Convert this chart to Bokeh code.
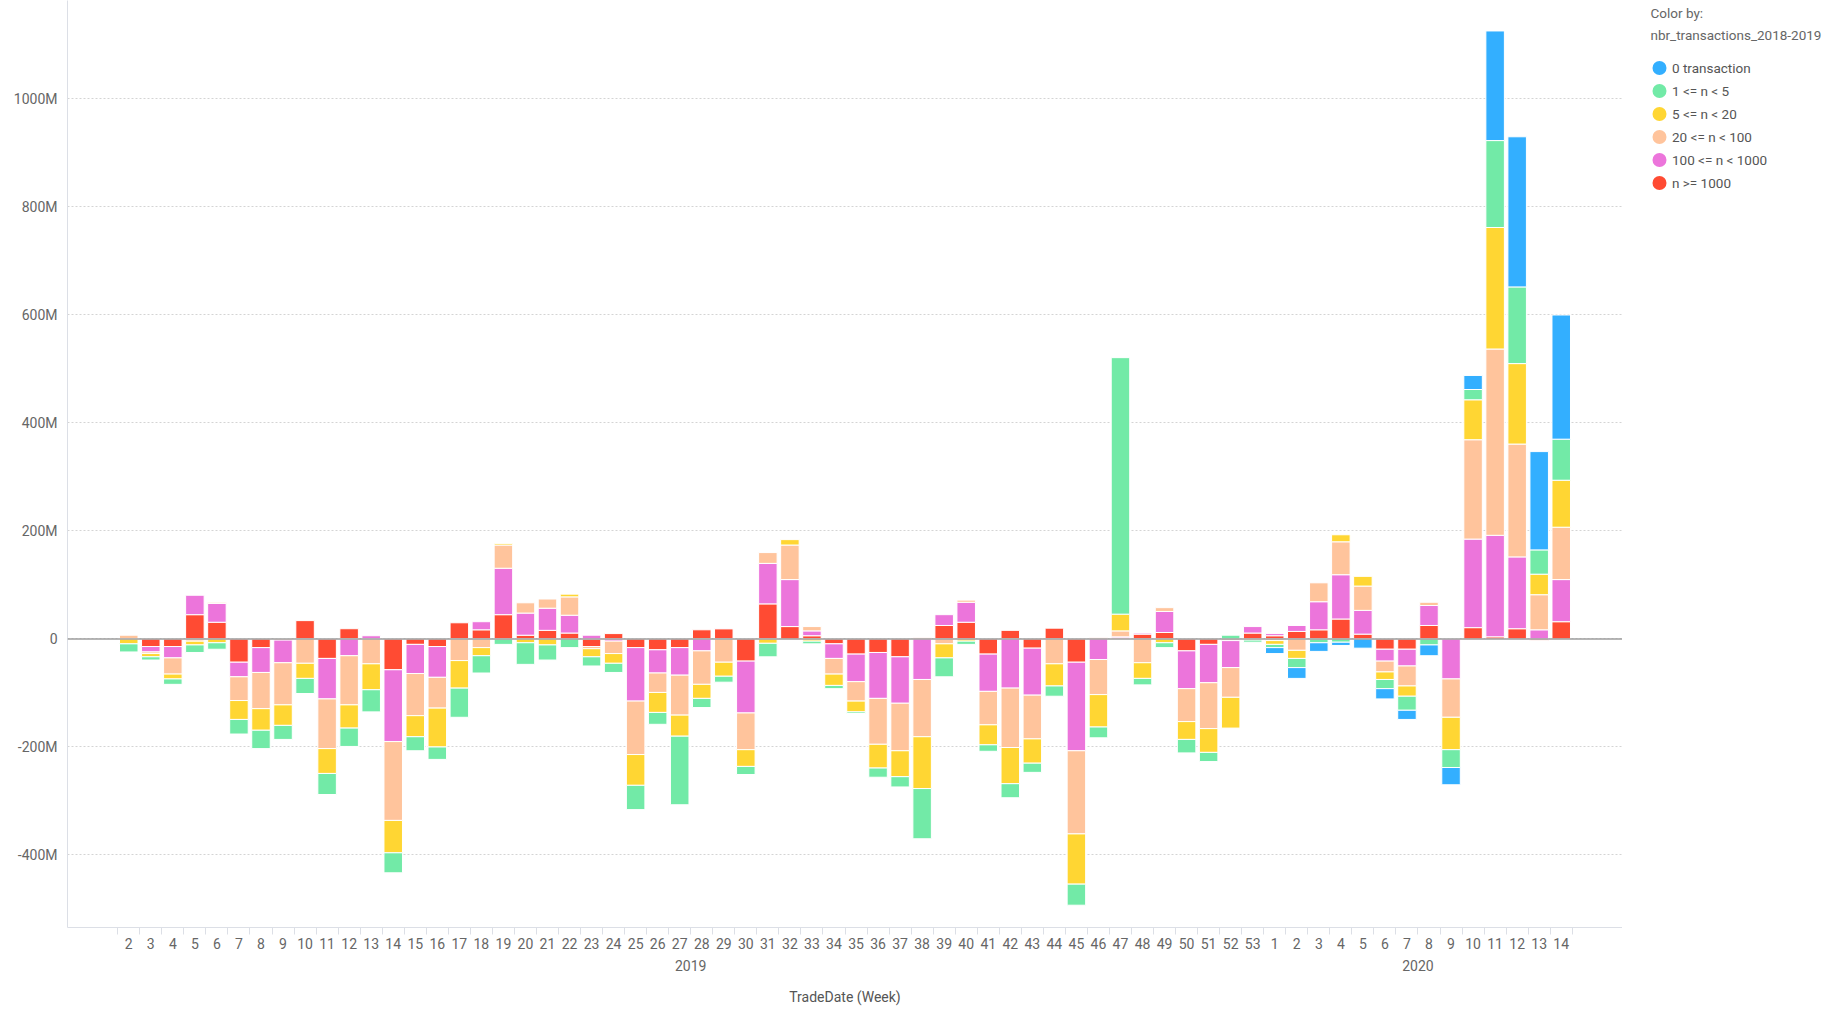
import numpy as np
from bokeh.plotting import figure
from bokeh.layouts import row
from bokeh.models import (FactorRange, Range1d, CategoricalAxis, FixedTicker,
                          CustomJSTickFormatter, Legend, LegendItem, Span, Label)
from bokeh.embed import file_html
from bokeh.resources import INLINE

# ---------------- data (values in millions) ----------------
weeks_2019 = [str(w) for w in range(2, 54)]
weeks_2020 = [str(w) for w in range(1, 15)]
factors = [("2019", w) for w in weeks_2019] + [("2020", w) for w in weeks_2020]

series_names = ["0 transaction", "1 <= n < 5", "5 <= n < 20", "20 <= n < 100",
                "100 <= n < 1000", "n >= 1000"]
series_colors = ["#33AFFF", "#72EAA7", "#FFD633", "#FFC49C", "#EC75DB", "#FF4B33"]

n_ge_1000 = [0, -14, -14, 45, 31, -43, -16, -2, 34, -36, 19, 0, -57, -10, -14, 30, 17, 45, 7, 16,
             11, -14, 10, -16, -20, -16, 17, 19, -41, 65, 23, 6, -9, -28, -25, -33, 2, 25, 31, -28,
             16, -17, 20, -43, 2, 2, 9, 12, -22, -10, -3, 11,
             6, 14, 17, 37, 9, -19, -19, 25, 0, 21, 4, 19, -3, 32]
n_100_1000 = [0, -10, -21, 36, 35, -27, -46, -42, 0, -75, -31, 6, -133, -54, -57, 0, 15, 86, 41, 41,
              33, 7, -4, -99, -43, -51, -22, 1, -96, 75, 87, 9, -27, -51, -85, -86, -75, 20, 37, -69,
              -91, -87, 0, -164, -38, 2, 2, 39, -70, -71, -50, 12,
              4, 11, 52, 82, 44, -22, -31, 37, -74, 164, 188, 133, 17, 78]
n_20_100 = [7, -3, -30, -4, 2, -44, -67, -78, -45, -92, -91, -46, -146, -78, -57, -40, -16, 43, 19, 17,
            34, -4, -23, -99, -36, -74, -62, -43, -68, 20, 64, 8, -29, -36, -85, -88, -106, -9, 4, -62,
            -110, -81, -46, -154, -65, 11, -44, 7, -61, -85, -55, 0,
            -3, -21, 35, 61, 45, -20, -37, 6, -71, 184, 345, 209, 65, 97]
n_5_20 = [-9, -6, -9, -7, -7, -35, -40, -38, -28, -46, -43, -48, -60, -39, -72, -51, -15, 3, -7, -11,
          5, -15, -18, -57, -37, -39, -26, -26, -31, -8, 10, -4, -21, -20, -44, -48, -96, -26, -4, -37,
          -67, -45, -41, -93, -60, 31, -29, -7, -33, -44, -57, -2,
          -7, -15, 0, 13, 18, -14, -19, 0, -60, 74, 225, 149, 38, 87]
n_1_5 = [-15, -6, -10, -14, -12, -27, -34, -26, -28, -39, -34, -41, -37, -26, -23, -54, -32, -10, -40, -28,
         -16, -17, -17, -45, -22, -127, -17, -11, -15, -25, 0, -5, -6, -3, -17, -19, -93, -35, -6, -12,
         -26, -17, -19, -39, -20, 475, -12, -9, -25, -17, 7, -4,
         -6, -17, -7, -6, 0, -17, -26, -11, -33, 19, 161, 142, 45, 76]
zero_tx = [0] * 52 + [-11, -20, -16, -6, -17, -19, -17, -20, -32, 26, 203, 278, 182, 230]

y_ticks = [-400, -200, 0, 200, 400, 600, 800, 1000]
legend_title_lines = ["Color by:", "nbr_transactions_2018-2019"]

# ---------------- main figure ----------------
FONT = "Roboto"
H = 1012
BOTTOM = 85
PAD = dict(group_padding=0, factor_padding=0, range_padding=2.28, range_padding_units="absolute")
p = figure(width=1622, height=H, x_range=FactorRange(*factors, **PAD),
           y_range=Range1d(-534.3, 1182.4),
           output_backend="svg", toolbar_location=None,
           min_border_left=67, min_border_right=0, min_border_top=0, min_border_bottom=BOTTOM,
           outline_line_color=None, background_fill_color="white")

# stacked bars: from zero outward red, pink, peach, yellow, green, blue
stack = [(series_colors[5], n_ge_1000), (series_colors[4], n_100_1000), (series_colors[3], n_20_100),
         (series_colors[2], n_5_20), (series_colors[1], n_1_5), (series_colors[0], zero_tx)]
pos = [0.0] * len(factors)
neg = [0.0] * len(factors)
for color, vals in stack:
    xs, tops, bottoms = [], [], []
    for i, v in enumerate(vals):
        if v == 0:
            continue
        if v > 0:
            b, t = pos[i], pos[i] + v
            pos[i] = t
        else:
            t, b = neg[i], neg[i] + v
            neg[i] = b
        xs.append(factors[i]); tops.append(t); bottoms.append(b)
    p.vbar(x=xs, top=tops, bottom=bottoms, width=0.84, fill_color=color,
           line_color="white", line_width=1)

p.add_layout(Span(location=0, dimension="width", line_color="#9e9e9e", line_width=1.5))

# y axis
yaxis = p.yaxis[0]
yaxis.ticker = FixedTicker(ticks=y_ticks)
yaxis.formatter = CustomJSTickFormatter(code="return tick == 0 ? '0' : tick + 'M';")
yaxis.major_tick_line_color = None
yaxis.minor_tick_line_color = None
yaxis.major_tick_out = 0
yaxis.major_tick_in = 0
yaxis.axis_line_color = "#dcdfe6"
yaxis.major_label_text_font = FONT
yaxis.major_label_text_font_size = "14px"
yaxis.major_label_text_color = "#666666"
yaxis.major_label_standoff = 10
p.ygrid.ticker = FixedTicker(ticks=y_ticks)
p.ygrid.grid_line_color = "#d4d4d4"
p.ygrid.grid_line_dash = "2 2"
p.xgrid.visible = False

# ---- x axes: boundary ticks / week labels / year labels ----
boundaries = [str(k) for k in range(len(factors) + 1)]
p.extra_x_ranges = {
    "slots": FactorRange(*boundaries, factor_padding=0, range_padding=1.78,
                         range_padding_units="absolute"),
    "groups": FactorRange(*factors, **PAD),
}
tick_axis = CategoricalAxis(x_range_name="slots",
                            major_label_text_font_size="0px", major_label_text_alpha=0,
                            major_label_standoff=0, major_tick_out=7, major_tick_in=0,
                            axis_line_color="#dcdfe6", major_tick_line_color="#dcdfe6")

week_axis = p.xaxis[0]
week_axis.axis_line_color = None
week_axis.major_tick_line_color = None
week_axis.major_tick_out = 0
week_axis.major_tick_in = 0
week_axis.major_label_standoff = 3
week_axis.major_label_text_font = FONT
week_axis.major_label_text_font_size = "14px"
week_axis.major_label_text_color = "#666666"
week_axis.group_text_font_size = "0px"
week_axis.group_text_alpha = 0
week_axis.separator_line_color = None

group_axis = CategoricalAxis(x_range_name="groups", bounds=(-2.28, 63.5),
                             axis_line_color=None, major_tick_line_color=None,
                             major_tick_out=0, major_tick_in=0, major_label_standoff=8,
                             major_label_text_font_size="0px", major_label_text_alpha=0,
                             group_text_font=FONT, group_text_font_size="14px",
                             group_text_font_style="normal", group_text_color="#666666",
                             separator_line_color=None,
                             axis_label="TradeDate (Week)", axis_label_text_font=FONT,
                             axis_label_text_font_size="14px", axis_label_text_font_style="normal",
                             axis_label_text_color="#555555", axis_label_standoff=15)
p.below = [tick_axis, week_axis, group_axis]

# ---------------- legend panel (separate figure on the right) ----------------
# its plot frame is aligned with the main one (0 .. H-BOTTOM px), so data units = px from bottom
LW = 223
lf = figure(width=LW, height=H, x_range=Range1d(0, LW), y_range=Range1d(BOTTOM, H),
            output_backend="svg", toolbar_location=None, x_axis_location=None,
            y_axis_location=None, min_border=0, min_border_bottom=BOTTOM,
            outline_line_color=None)
lf.xgrid.visible = False
lf.ygrid.visible = False

items = []
for name, color in zip(series_names, series_colors):
    r = lf.scatter(x=np.array([np.nan]), y=np.array([np.nan]), marker="circle", size=14,
                   fill_color=color, line_color=color, line_width=6)
    items.append(LegendItem(label=name, renderers=[r]))
legend = Legend(items=items, location=(27, 733),
                label_text_font=FONT, label_text_font_size="13.5px", label_text_color="#555555",
                glyph_width=20, glyph_height=23, label_height=23, spacing=0, label_standoff=3,
                padding=0, margin=0, border_line_color=None, background_fill_alpha=0)
lf.add_layout(legend)

for txt, ty in zip(legend_title_lines, [H - 12, H - 34]):
    lf.add_layout(Label(x=28, y=ty, text=txt, text_font=FONT, text_font_size="13.5px",
                        text_color="#666666", text_baseline="middle", text_align="left"))

layout = row(p, lf, spacing=0)
open("out.html", "w").write(file_html(layout, INLINE))
